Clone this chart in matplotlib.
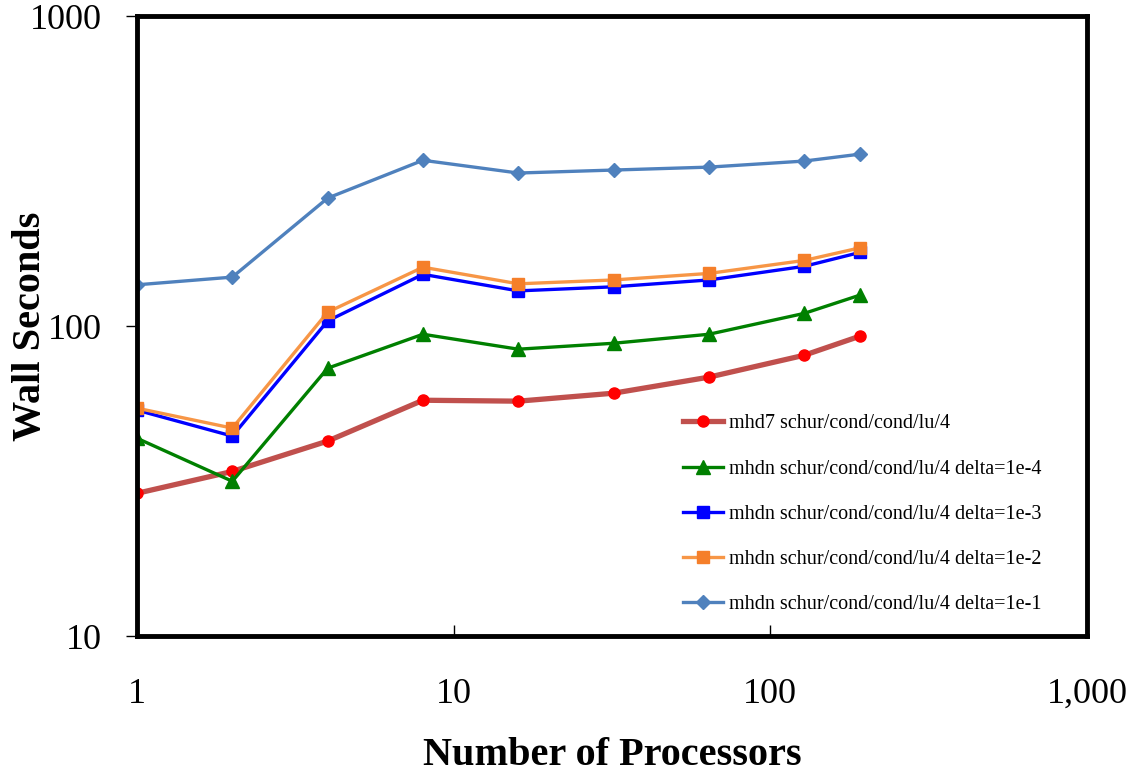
import numpy as np
import matplotlib
matplotlib.use("Agg")
import matplotlib.pyplot as plt
from matplotlib.ticker import FixedLocator, FixedFormatter, NullLocator

plt.rcParams['font.family'] = ['Liberation Serif', 'DejaVu Serif']

procs = [1, 2, 4, 8, 16, 32, 64, 128, 192]

mhd7 = [28.9, 34.0, 42.6, 57.7, 57.3, 60.8, 68.5, 80.6, 92.9]
d1e4 = [43.5, 31.6, 73.2, 94.2, 84.3, 88.1, 94.2, 110, 126]
d1e3 = [53.6, 44.2, 104, 147, 130, 134, 141, 156, 173]
d1e2 = [54.4, 46.9, 111, 155, 137, 141, 148, 163, 179]
d1e1 = [136, 144, 259, 343, 312, 319, 326, 341, 359]

labels = ["mhd7 schur/cond/cond/lu/4",
          "mhdn schur/cond/cond/lu/4 delta=1e-4",
          "mhdn schur/cond/cond/lu/4 delta=1e-3",
          "mhdn schur/cond/cond/lu/4 delta=1e-2",
          "mhdn schur/cond/cond/lu/4 delta=1e-1"]

fig = plt.figure(figsize=(11.37, 7.73), dpi=100)
ax = fig.add_axes([0.1205, 0.177, 0.8355, 0.802])

ax.plot(procs, mhd7, color='#C0504D', lw=3.8, marker='o', ms=8,
        mfc='#FF0000', mec='#FF0000', label=labels[0])
ax.plot(procs, d1e4, color='#008000', lw=2.4, marker='^', ms=10,
        mfc='#008000', mec='#008000', label=labels[1])
ax.plot(procs, d1e3, color='#0000FF', lw=2.4, marker='s', ms=8,
        mfc='#0000FF', mec='#0000FF', label=labels[2])
ax.plot(procs, d1e2, color='#F79646', lw=2.4, marker='s', ms=9,
        mfc='#F57F2A', mec='#F57F2A', label=labels[3])
ax.plot(procs, d1e1, color='#4F81BD', lw=2.4, marker='D', ms=7,
        mfc='#4F81BD', mec='#4F81BD', label=labels[4])

ax.set_xscale('log')
ax.set_yscale('log')
ax.set_xlim(1, 1000)
ax.set_ylim(10, 1000)

ax.xaxis.set_major_locator(FixedLocator([1, 10, 100, 1000]))
ax.xaxis.set_major_formatter(FixedFormatter(['1', '10', '100', '1,000']))
ax.xaxis.set_minor_locator(NullLocator())
ax.yaxis.set_major_locator(FixedLocator([10, 100, 1000]))
ax.yaxis.set_major_formatter(FixedFormatter(['10', '100', '1000']))
ax.yaxis.set_minor_locator(NullLocator())

ax.tick_params(axis='x', direction='in', length=8, width=1, labelsize=26, pad=30)
ax.tick_params(axis='y', direction='out', length=8, width=1, labelsize=26, pad=17)

for s in ax.spines.values():
    s.set_linewidth(3.5)

ax.set_xlabel("Number of Processors", fontsize=29, fontweight='bold')
ax.xaxis.set_label_coords(0.5, -0.162)
ax.set_ylabel("Wall Seconds", fontsize=29, fontweight='bold')
ax.yaxis.set_label_coords(-0.093, 0.5)

ax.legend(loc='lower left', bbox_to_anchor=(0.575, 0.035), frameon=False,
          fontsize=14.5, labelspacing=1.3, handlelength=1.95, handletextpad=0.3,
          borderpad=0, borderaxespad=0)

fig.savefig("out.png", dpi=100)
